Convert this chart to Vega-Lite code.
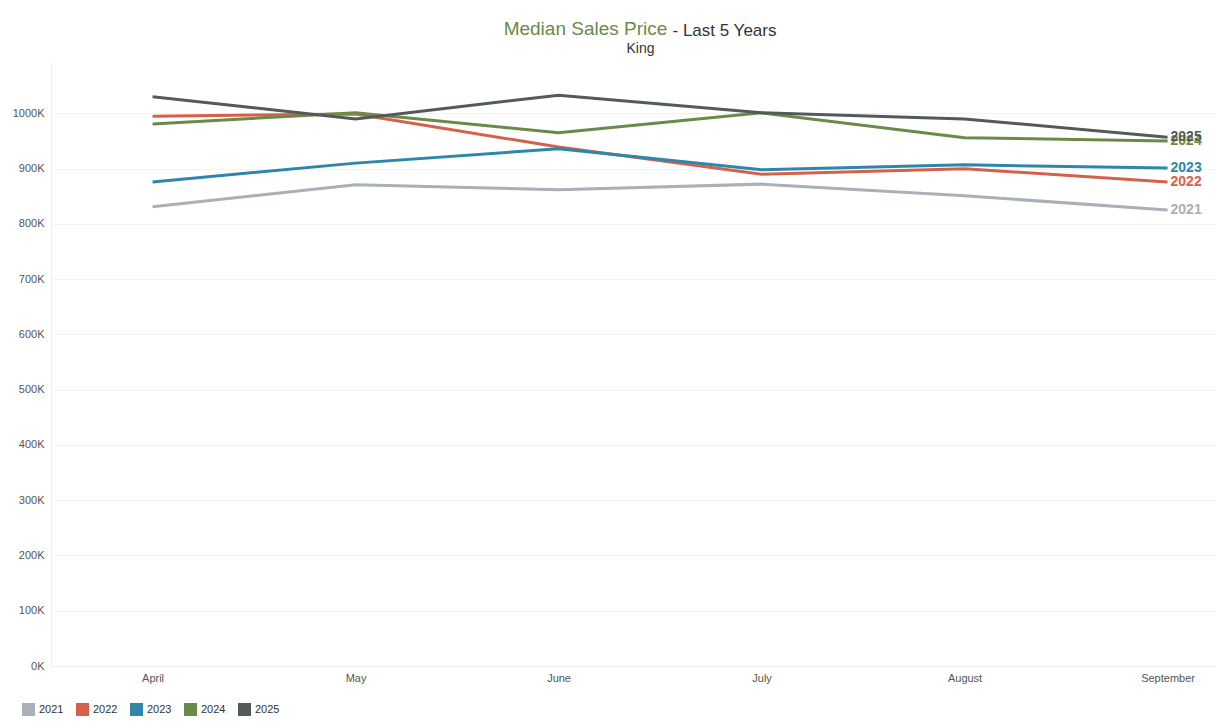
{
  "$schema": "https://vega.github.io/schema/vega-lite/v6.json",
  "autosize": {"type": "none"},
  "width": 1165,
  "height": 604,
  "padding": {"left": 51, "top": 62, "right": 0, "bottom": 62},
  "background": "white",
  "config": {
    "font": "Liberation Sans",
    "view": {"stroke": null}
  },
  "title": {
    "text": "Median Sales Price",
    "color": "#6a8a48",
    "fontSize": 19,
    "fontWeight": "normal",
    "font": "Liberation Sans",
    "anchor": "middle",
    "dx": -48,
    "offset": -37,
    "baseline": "bottom"
  },
  "data": {
    "values": [
      {"month": "April", "year": "2021", "price": 831000},
      {"month": "May", "year": "2021", "price": 871000},
      {"month": "June", "year": "2021", "price": 862000},
      {"month": "July", "year": "2021", "price": 872000},
      {"month": "August", "year": "2021", "price": 851000},
      {"month": "September", "year": "2021", "price": 825000},
      {"month": "April", "year": "2022", "price": 995000},
      {"month": "May", "year": "2022", "price": 999000},
      {"month": "June", "year": "2022", "price": 939000},
      {"month": "July", "year": "2022", "price": 890000},
      {"month": "August", "year": "2022", "price": 900000},
      {"month": "September", "year": "2022", "price": 876000},
      {"month": "April", "year": "2023", "price": 876000},
      {"month": "May", "year": "2023", "price": 910000},
      {"month": "June", "year": "2023", "price": 936000},
      {"month": "July", "year": "2023", "price": 898000},
      {"month": "August", "year": "2023", "price": 907000},
      {"month": "September", "year": "2023", "price": 901000},
      {"month": "April", "year": "2024", "price": 981000},
      {"month": "May", "year": "2024", "price": 1001000},
      {"month": "June", "year": "2024", "price": 965000},
      {"month": "July", "year": "2024", "price": 1001000},
      {"month": "August", "year": "2024", "price": 956000},
      {"month": "September", "year": "2024", "price": 950000},
      {"month": "April", "year": "2025", "price": 1030000},
      {"month": "May", "year": "2025", "price": 990000},
      {"month": "June", "year": "2025", "price": 1033000},
      {"month": "July", "year": "2025", "price": 1001000},
      {"month": "August", "year": "2025", "price": 990000},
      {"month": "September", "year": "2025", "price": 957000}
    ]
  },
  "encoding": {
    "x": {
      "field": "month",
      "type": "ordinal",
      "sort": ["April", "May", "June", "July", "August", "September"],
      "scale": {"type": "point", "padding": 0.3695, "align": 0.677},
      "axis": {
        "title": "King",
        "titleFontSize": 14,
        "titleFontWeight": "normal",
        "titleColor": "#333333",
        "titleX": 589,
        "titleY": -618,
        "titleAlign": "center",
        "titleBaseline": "middle",
        "labelAngle": 0,
        "labelFontSize": 11,
        "labelColor": "#555555",
        "labelPadding": 6,
        "ticks": false,
        "domainColor": "#eeeeee",
        "grid": false
      }
    },
    "y": {
      "field": "price",
      "type": "quantitative",
      "scale": {"domain": [0, 1093000], "nice": false},
      "axis": {
        "title": "- Last 5 Years",
        "titleFontSize": 17,
        "titleFontWeight": "normal",
        "titleColor": "#333333",
        "titleAngle": 0,
        "titleX": 621,
        "titleY": -32,
        "titleAlign": "left",
        "titleBaseline": "middle",
        "values": [0, 100000, 200000, 300000, 400000, 500000, 600000, 700000, 800000, 900000, 1000000],
        "labelExpr": "datum.value / 1000 + 'K'",
        "labelFontSize": 11,
        "labelColor": "#555555",
        "labelPadding": 7,
        "ticks": false,
        "domainColor": "#eeeeee",
        "gridColor": "#f3f3f3"
      }
    },
    "color": {
      "field": "year",
      "type": "nominal",
      "scale": {
        "domain": ["2021", "2022", "2023", "2024", "2025"],
        "range": ["#a9b0b7", "#d4614a", "#2e86ab", "#6a8a47", "#525a5a"]
      },
      "legend": {
        "orient": "none",
        "legendX": -29,
        "legendY": 641,
        "direction": "horizontal",
        "title": null,
        "symbolType": "square",
        "symbolSize": 169,
        "symbolStrokeWidth": 0,
        "symbolOpacity": 1,
        "labelFontSize": 11,
        "labelColor": "#333333",
        "labelOffset": 4,
        "columnPadding": 12
      }
    }
  },
  "layer": [
    {"mark": {"type": "line", "strokeWidth": 3}},
    {
      "transform": [{"filter": "datum.month === 'September'"}],
      "mark": {"type": "text", "align": "left", "baseline": "middle", "dx": 3, "fontSize": 14, "fontWeight": "bold"},
      "encoding": {"text": {"field": "year"}}
    }
  ]
}
